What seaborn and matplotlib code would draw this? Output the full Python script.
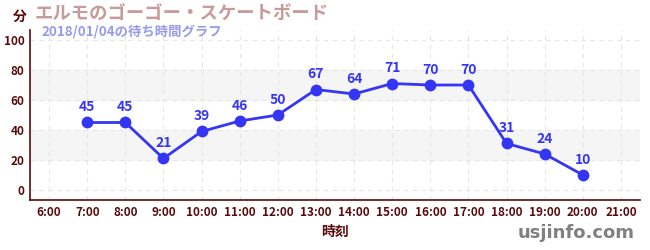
import matplotlib
matplotlib.use("Agg")
import matplotlib.pyplot as plt
import seaborn as sns
import pandas as pd
from matplotlib.ticker import MultipleLocator

hours = [7, 8, 9, 10, 11, 12, 13, 14, 15, 16, 17, 18, 19, 20]
waits = [45, 45, 21, 39, 46, 50, 67, 64, 71, 70, 70, 31, 24, 10]
xticks = list(range(6, 22))
xtick_labels = [f"{h}:00" for h in xticks]
yticks = [0, 20, 40, 60, 80, 100]
title = "エルモのゴーゴー・スケートボード"
subtitle = "2018/01/04の待ち時間グラフ"
unit = "分"
xlabel = "時刻"
site = "usjinfo.com"

sns.set_style("white")
plt.rcParams['font.family'] = ['Noto Sans CJK JP', 'DejaVu Sans']

df = pd.DataFrame({"hour": hours, "wait": waits})

fig = plt.figure(figsize=(6.5, 2.5), dpi=100)
ax = fig.add_axes([30/650, 50/250, 610/650, 170/250])

dark = "#5a0a0a"
blue = "#3535f5"

ax.axhspan(20, 40, color="#f5f5f5", zorder=0)
ax.axhspan(60, 80, color="#f5f5f5", zorder=0)
for x in xticks:
    ax.axvline(x, color="#e6e6e6", lw=0.8, ls=(0, (4, 4)), zorder=0.5)
for y in yticks:
    ax.axhline(y, color="#e6e6e6", lw=0.8, ls=(0, (4, 4)), zorder=0.5)

sns.lineplot(data=df, x="hour", y="wait", ax=ax, color=blue, lw=2,
             marker="o", markersize=8.5, markeredgewidth=0, zorder=3)
for h, w in zip(hours, waits):
    ax.annotate(str(w), (h, w), xytext=(0, 6), textcoords="offset points",
                ha="center", va="bottom", color=blue, fontsize=10, fontweight="bold")

ax.set_xlim(5.5, 21.5)
ax.set_ylim(-6.7, 106.7)
ax.set_xticks(xticks)
ax.set_xticklabels(xtick_labels)
ax.set_yticks(yticks)
ax.yaxis.set_minor_locator(MultipleLocator(10))
ax.tick_params(axis="y", which="minor", length=3, color="#dd0000", width=1)
ax.tick_params(axis="both", which="major", length=4, width=1, color="#333333",
               labelcolor=dark, labelsize=8.5, direction="inout", pad=2)
for lab in ax.get_xticklabels() + ax.get_yticklabels():
    lab.set_fontweight("bold")
for s in ["top", "right"]:
    ax.spines[s].set_visible(False)
for s in ["left", "bottom"]:
    ax.spines[s].set_color(dark)
    ax.spines[s].set_linewidth(1.2)

ax.set_xlabel("")
ax.set_ylabel("")
fig.text(335/650, 1 - 232/250, xlabel, ha="center", va="center", color=dark,
         fontsize=10, fontweight="bold")
fig.text(20/650, 1 - 17/250, unit, ha="center", va="center", color=dark,
         fontsize=10, fontweight="bold")
fig.text(35/650, 1 - 14/250, title, ha="left", va="center", color="#c89a9a",
         fontsize=13.2, fontweight="bold")
fig.text(41/650, 1 - 31/250, subtitle, ha="left", va="center", color="#9999ee",
         fontsize=9.6, fontweight="bold")
fig.text(635/650, 1 - 233/250, site, ha="right", va="center", color="#808080",
         fontsize=13, fontweight="bold", family="DejaVu Sans")

fig.savefig("out.png", dpi=100)
